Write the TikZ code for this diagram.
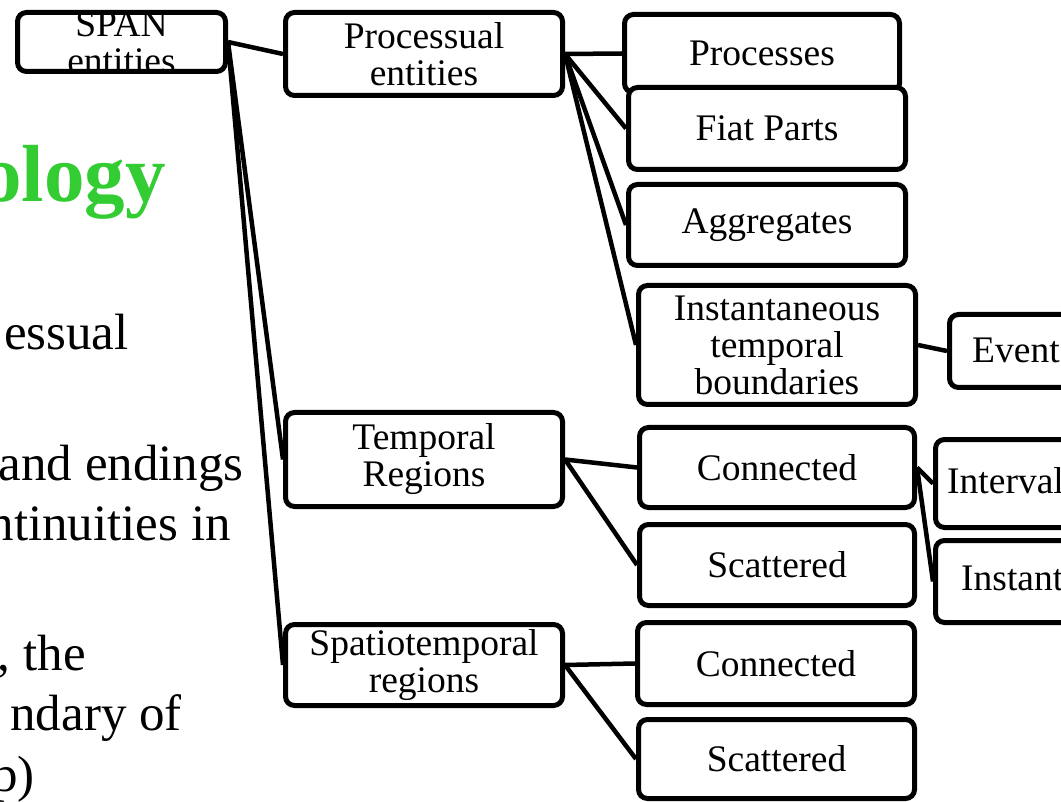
\documentclass[tikz,border=0pt]{standalone}
\usepackage{fontspec}
\setmainfont{Liberation Serif}
\usetikzlibrary{backgrounds}
\definecolor{titlegreen}{RGB}{51,204,51}
\begin{document}
\begin{tikzpicture}[x=1pt,y=-1pt,
  box/.style={draw=black, line width=5pt, rounded corners=9pt, fill=white,
    align=center, inner sep=0pt, font=\fontsize{37.5}{37}\selectfont},
  lbl/.style={inner sep=0pt, align=center, font=\fontsize{37.5}{37}\selectfont},
  link/.style={draw=black, line width=4.5pt},
  bodytext/.style={inner sep=0pt, anchor=base east, font=\fontsize{51}{60}\selectfont},
]
\useasboundingbox (0,0) rectangle (1061,802);

% slide text behind the tree
\node[inner sep=0pt, anchor=base east, text=titlegreen,
      font=\fontsize{81}{90}\selectfont\bfseries] (title) at (166,202) {ology};
\node[bodytext] (t1) at (129,350) {essual};
\node[bodytext] (t2) at (244,480) {and endings};
\node[bodytext] (t3) at (231,540) {ntinuities in};
\node[bodytext] (t4) at (86,670) {, the};
\node[bodytext] (t5) at (182,730) {ndary of};
\node[bodytext] (t6) at (35,791) {p)};

% root
\node[box, minimum width=208, minimum height=59] (span) at (121.5,42) {};
\node[lbl] (spantext) at (121.5,43) {SPAN\\entities};

% first level
\node[box, minimum width=277, minimum height=83] (proc) at (424,54) {Processual\\entities};
\node[box, minimum width=277, minimum height=94] (temporal) at (424,459.5) {Temporal\\Regions};
\node[box, minimum width=277, minimum height=81] (spatio) at (424,665) {Spatiotemporal\\regions};

% processual entities
\node[box, minimum width=275, minimum height=78] (processes) at (762,53.5) {Processes};
\node[box, minimum width=277, minimum height=82] (fiat) at (767,128.5) {Fiat Parts};
\node[box, minimum width=277, minimum height=81] (aggr) at (767,225) {Aggregates};
\node[box, minimum width=277, minimum height=119] (inst) at (777,345) {Instantaneous\\temporal\\boundaries};
\node[box, minimum width=275, minimum height=73] (events) at (1087,351) {};
\node[lbl, anchor=west] (eventstext) at (972,350) {Event};

% temporal regions
\node[box, minimum width=275, minimum height=80] (conn1) at (777,467.5) {Connected};
\node[box, minimum width=275, minimum height=81] (scat1) at (777,565) {Scattered};
\node[box, minimum width=275, minimum height=88] (interval) at (1073,483.5) {};
\node[lbl, anchor=west] (intervaltext) at (947,481) {Interval};
\node[box, minimum width=275, minimum height=82] (instant) at (1073,581.5) {};
\node[lbl, anchor=west] (instanttext) at (961,578) {Instant};

% spatiotemporal regions
\node[box, minimum width=277, minimum height=82] (conn2) at (776,663.5) {Connected};
\node[box, minimum width=276, minimum height=79] (scat2) at (776.5,759) {Scattered};

% connectors
\begin{scope}[on background layer]
  \draw[link] (span.east) -- (proc.west);
  \draw[link] (span.east) -- (temporal.west);
  \draw[link] (span.east) -- (spatio.west);
  \draw[link] (proc.east) -- (processes.west);
  \draw[link] (proc.east) -- (fiat.west);
  \draw[link] (proc.east) -- (aggr.west);
  \draw[link] (proc.east) -- (inst.west);
  \draw[link] (inst.east) -- (events.west);
  \draw[link] (temporal.east) -- (conn1.west);
  \draw[link] (temporal.east) -- (scat1.west);
  \draw[link] (conn1.east) -- (interval.west);
  \draw[link] (conn1.east) -- (instant.west);
  \draw[link] (spatio.east) -- (conn2.west);
  \draw[link] (spatio.east) -- (scat2.west);
\end{scope}
\end{tikzpicture}
\end{document}
